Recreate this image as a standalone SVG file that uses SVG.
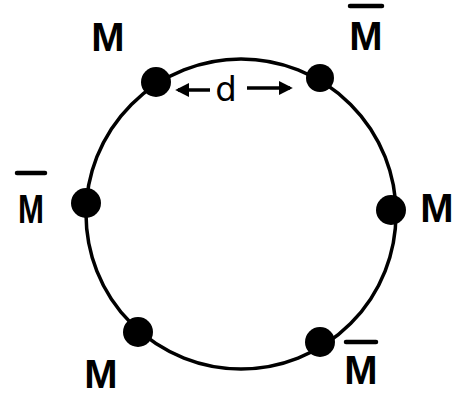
<svg xmlns="http://www.w3.org/2000/svg" width="468" height="395" viewBox="0 0 468 395">
<style>
.ring{fill:none;stroke:#000;stroke-width:3.5}
.dot{fill:#000}
.lbl{font-family:"Liberation Sans","DejaVu Sans",sans-serif;font-weight:bold;font-size:40px;fill:#000;text-anchor:middle}
.bar{stroke:#000;stroke-width:4.5;stroke-linecap:round}
.arr{stroke:#000;stroke-width:3.5;fill:none}
.d{font-family:"DejaVu Sans","Liberation Sans",sans-serif;font-size:34px;fill:#000;text-anchor:middle}
</style>
<defs>
<marker id="ah" viewBox="0 0 10 10" refX="8" refY="5" markerWidth="4" markerHeight="4" orient="auto-start-reverse">
<path d="M0,0 L10,5 L0,10 z" fill="#000"/>
</marker>
</defs>
<rect width="468" height="395" fill="#fff"/>
<circle class="ring" cx="241" cy="214" r="155"/>
<g id="connectors">
<line class="arr" x1="210" y1="90" x2="178" y2="90" marker-end="url(#ah)"/>
<line class="arr" x1="247" y1="88" x2="290" y2="88" marker-end="url(#ah)"/>
<text class="d" x="226" y="101">d</text>
</g>
<g id="n1"><circle class="dot" cx="156" cy="82" r="15"/><text class="lbl" x="108" y="51">M</text></g>
<g id="n2"><circle class="dot" cx="320" cy="78" r="14"/><line class="bar" x1="350" y1="6" x2="382" y2="6"/><text class="lbl" x="366" y="50">M</text></g>
<g id="n3"><circle class="dot" cx="86" cy="203" r="15"/><line class="bar" x1="17" y1="173" x2="45" y2="173"/><text class="lbl" x="31" y="223" textLength="26" lengthAdjust="spacingAndGlyphs">M</text></g>
<g id="n4"><circle class="dot" cx="391" cy="210" r="15"/><text class="lbl" x="437" y="222">M</text></g>
<g id="n5"><circle class="dot" cx="138" cy="332" r="15"/><text class="lbl" x="101" y="388">M</text></g>
<g id="n6"><circle class="dot" cx="320" cy="342" r="15"/><line class="bar" x1="346" y1="342" x2="376" y2="342"/><text class="lbl" x="361" y="384">M</text></g>
</svg>
